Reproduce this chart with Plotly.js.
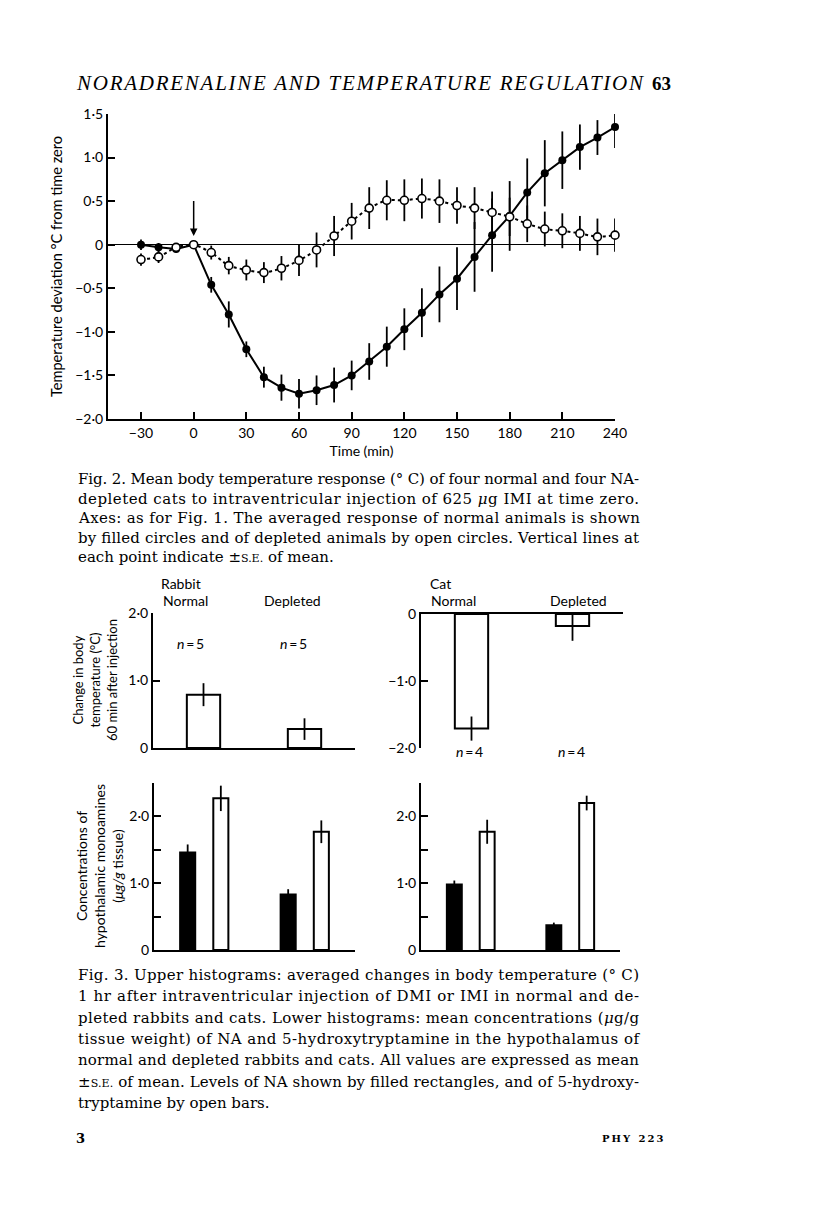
<!DOCTYPE html>
<html><head><meta charset="utf-8">
<script src="https://cdn.plot.ly/plotly-3.0.1.min.js"></script>
<style>html,body{margin:0;padding:0;background:#fff}#chart{width:816px;height:1212px}</style>
</head><body><div id="chart"></div>
<script>
// ---------- Fig. 2 data ----------
const time = [-30,-20,-10,0,10,20,30,40,50,60,70,80,90,100,110,120,130,140,150,160,170,180,190,200,210,220,230,240];
const normalMean = [0.00,-0.03,-0.05,0.00,-0.46,-0.80,-1.20,-1.52,-1.64,-1.71,-1.67,-1.61,-1.50,-1.34,-1.17,-0.97,-0.78,-0.57,-0.39,-0.14,0.11,0.33,0.60,0.82,0.97,1.12,1.23,1.35];
const normalSE   = [0.06,0.05,0.04,0.02,0.09,0.15,0.09,0.12,0.15,0.17,0.17,0.20,0.17,0.21,0.23,0.24,0.28,0.32,0.36,0.40,0.42,0.40,0.39,0.38,0.33,0.26,0.20,0.24];
const depletedMean = [-0.17,-0.14,-0.03,0.00,-0.09,-0.24,-0.29,-0.32,-0.27,-0.18,-0.06,0.10,0.27,0.42,0.51,0.51,0.53,0.50,0.45,0.42,0.37,0.32,0.24,0.18,0.16,0.13,0.09,0.11];
const depletedSE   = [0.07,0.07,0.03,0.02,0.08,0.10,0.12,0.12,0.14,0.18,0.20,0.23,0.21,0.24,0.23,0.24,0.23,0.25,0.21,0.24,0.24,0.22,0.21,0.20,0.20,0.20,0.21,0.19];
const timeTicks = [-30,0,30,60,90,120,150,180,210,240];
const timeTickText = ['\u221230','0','30','60','90','120','150','180','210','240'];
const tempTicks = [1.5,1.0,0.5,0,-0.5,-1.0,-1.5,-2.0];
const tempTickText = ['1\u00b75','1\u00b70','0\u00b75','0','\u22120\u00b75','\u22121\u00b70','\u22121\u00b75','\u22122\u00b70'];
const injectionTime = 0;

// ---------- Fig. 3 data ----------
const groups = ['Normal','Depleted'];
const rabbitTempChange = [0.79, 0.28];
const rabbitTempSE = [0.17, 0.16];
const rabbitN = [5, 5];
const catTempChange = [-1.71, -0.18];
const catTempSE = [0.18, 0.22];
const catN = [4, 4];
const rabbitNA = [1.46, 0.83];
const rabbitNASE = [0.12, 0.08];
const rabbit5HT = [2.27, 1.77];
const rabbit5HTSE = [0.19, 0.17];
const catNA = [0.98, 0.37];
const catNASE = [0.06, 0.04];
const cat5HT = [1.77, 2.20];
const cat5HTSE = [0.18, 0.11];

// ---------- text ----------
const header = 'NORADRENALINE AND TEMPERATURE REGULATION';
const pageNo = '63';
const fig2Caption = [
  'Fig. 2. Mean body temperature response (\u00b0 C) of four normal and four NA-',
  'depleted cats to intraventricular injection of 625 <i>\u03bc</i>g IMI at time zero.',
  'Axes: as for Fig. 1. The averaged response of normal animals is shown',
  'by filled circles and of depleted animals by open circles. Vertical lines at',
  'each point indicate \u00b1<span style="font-size:11px">S.E.</span> of mean.'
];
const fig3Caption = [
  'Fig. 3. Upper histograms: averaged changes in body temperature (\u00b0 C)',
  '1 hr after intraventricular injection of DMI or IMI in normal and de-',
  'pleted rabbits and cats. Lower histograms: mean concentrations (<i>\u03bc</i>g/g',
  'tissue weight) of NA and 5-hydroxytryptamine in the hypothalamus of',
  'normal and depleted rabbits and cats. All values are expressed as mean',
  '\u00b1<span style="font-size:11px">S.E.</span> of mean. Levels of NA shown by filled rectangles, and of 5-hydroxy-',
  'tryptamine by open bars.'
];

// ---------- helpers ----------
const W = 816, H = 1212;
const px = v => v / W;
const py = v => 1 - v / H;
const SANS = 'Lato, "Open Sans", sans-serif';
const SERIF = '"DejaVu Serif", serif';

const axBase = {
  showline: true, linecolor: '#000', linewidth: 2, mirror: false,
  ticks: 'inside', ticklen: 7, tickwidth: 2, tickcolor: '#000',
  showgrid: false, zeroline: false, fixedrange: true,
  tickfont: {family: SANS, size: 14, color: '#000'}
};
function ax(o) { return Object.assign({}, axBase, o); }

const errStyle = arr => ({type: 'data', array: arr, visible: true, color: '#000', thickness: 1.8, width: 0});

const traces = [
  // Fig 2
  {type: 'scatter', mode: 'lines+markers', x: time, y: normalMean, xaxis: 'x', yaxis: 'y',
   line: {color: '#000', width: 2}, marker: {color: '#000', size: 8},
   error_y: errStyle(normalSE), cliponaxis: false, name: 'Normal'},
  {type: 'scatter', mode: 'lines+markers', x: time, y: depletedMean, xaxis: 'x', yaxis: 'y',
   line: {color: '#000', width: 2, dash: 'dot', shape: 'spline', smoothing: 0.6},
   marker: {color: '#fff', size: 8, line: {color: '#000', width: 1.6}},
   error_y: errStyle(depletedSE), cliponaxis: false, name: 'NA-depleted'},
  // Fig 3 upper
  {type: 'bar', x: groups, y: rabbitTempChange, xaxis: 'x2', yaxis: 'y2', width: 0.33,
   marker: {color: '#fff', line: {color: '#000', width: 2}}, error_y: errStyle(rabbitTempSE)},
  {type: 'bar', x: groups, y: catTempChange, xaxis: 'x3', yaxis: 'y3', width: 0.33,
   marker: {color: '#fff', line: {color: '#000', width: 2}}, error_y: errStyle(catTempSE)},
  // Fig 3 lower
  {type: 'bar', x: groups, y: rabbitNA, xaxis: 'x4', yaxis: 'y4', width: 0.15, offset: -0.24,
   marker: {color: '#000', line: {color: '#000', width: 2}}, error_y: errStyle(rabbitNASE)},
  {type: 'bar', x: groups, y: rabbit5HT, xaxis: 'x4', yaxis: 'y4', width: 0.15, offset: 0.09,
   marker: {color: '#fff', line: {color: '#000', width: 2}}, error_y: errStyle(rabbit5HTSE)},
  {type: 'bar', x: groups, y: catNA, xaxis: 'x5', yaxis: 'y5', width: 0.15, offset: -0.24,
   marker: {color: '#000', line: {color: '#000', width: 2}}, error_y: errStyle(catNASE)},
  {type: 'bar', x: groups, y: cat5HT, xaxis: 'x5', yaxis: 'y5', width: 0.15, offset: 0.09,
   marker: {color: '#fff', line: {color: '#000', width: 2}}, error_y: errStyle(cat5HTSE)}
];

const annotations = [];
const justify = [];
function ann(text, x, y, o) {
  annotations.push(Object.assign({text: text, x: px(x), y: py(y), xref: 'paper', yref: 'paper',
    showarrow: false, xanchor: 'center', yanchor: 'middle',
    font: {family: SANS, size: 14, color: '#000'}}, o || {}));
  return annotations.length - 1;
}

// header
justify.push({idx: ann(header, 74, 83, {xanchor: 'left', align: 'left',
  font: {family: '"Liberation Serif", serif', size: 21, color: '#000', style: 'italic'}}), len: 566});
ann('<b>' + pageNo + '</b>', 650, 83, {xanchor: 'left', font: {family: '"Liberation Serif", serif', size: 19, color: '#000'}});

// arrow marking injection
annotations.push({x: injectionTime, y: 0.1, ax: injectionTime, ay: 0.52, xref: 'x', yref: 'y', axref: 'x', ayref: 'y',
  showarrow: true, arrowhead: 2, arrowsize: 1, arrowwidth: 1.5, arrowcolor: '#000', text: ''});

// Fig 2 caption
fig2Caption.forEach((t, i) => {
  const idx = ann(t, 76, 479 + 19.5 * i, {xanchor: 'left', align: 'left', font: {family: SERIF, size: 15, color: '#000'}});
  if (i < fig2Caption.length - 1) justify.push({idx: idx, len: 561});
});

// Fig 3 labels
ann('Rabbit', 181, 583);
ann('Cat', 440, 583);
ann(groups[0], 185, 601); ann(groups[1], 292, 601);
ann(groups[0], 453, 601); ann(groups[1], 578, 601);
ann('<i>n</i>\u2009=\u2009' + rabbitN[0], 190, 643); ann('<i>n</i>\u2009=\u2009' + rabbitN[1], 293, 643);
ann('<i>n</i>\u2009=\u2009' + catN[0], 470, 751); ann('<i>n</i>\u2009=\u2009' + catN[1], 571, 751);
ann('Change in body<br>temperature (\u00b0C)<br>60 min after injection', 95, 680, {textangle: -90, font: {family: SANS, size: 13, color: '#000'}});
ann('Concentrations of<br>hypothalamic monoamines<br>(<i>\u03bcg/g</i> tissue)', 99, 866, {textangle: -90, font: {family: SANS, size: 14, color: '#000'}});

// Fig 3 caption
fig3Caption.forEach((t, i) => {
  const idx = ann(t, 76, 975 + 21.3 * i, {xanchor: 'left', align: 'left', font: {family: SERIF, size: 15, color: '#000'}});
  if (i < fig3Caption.length - 1) justify.push({idx: idx, len: 561});
});

// footer
ann('<b>3</b>', 74, 1138, {xanchor: 'left', font: {family: SERIF, size: 13, color: '#000'}});
ann('<b>P\u2009H\u2009Y\u2002 2\u20092\u20093</b>', 600, 1138, {xanchor: 'left', font: {family: SERIF, size: 10, color: '#000'}});

const layout = {
  width: W, height: H, margin: {l: 0, r: 0, t: 0, b: 0},
  paper_bgcolor: '#fff', plot_bgcolor: 'rgba(0,0,0,0)', showlegend: false,
  font: {family: SANS, color: '#000'},
  xaxis: ax({domain: [px(108), px(615)], range: [-48.8, 240], anchor: 'y',
    tickvals: timeTicks, ticktext: timeTickText,
    title: {text: 'Time (min)', font: {family: SANS, size: 14, color: '#000'}, standoff: 6}}),
  yaxis: ax({domain: [py(419), py(114)], range: [-2, 1.5], anchor: 'x',
    tickvals: tempTicks, ticktext: tempTickText,
    zeroline: true, zerolinecolor: '#000', zerolinewidth: 1.5,
    title: {text: 'Temperature deviation \u00b0C from time zero', font: {family: SANS, size: 14.6, color: '#000'}, standoff: 9}}),
  xaxis2: ax({domain: [px(153), px(355)], range: [-0.5, 1.5], anchor: 'y2', type: 'category',
    ticks: '', showticklabels: false}),
  yaxis2: ax({domain: [py(748), py(613)], range: [0, 2], anchor: 'x2',
    tickvals: [0, 1, 2], ticktext: ['0', '1\u00b70', '2\u00b70']}),
  xaxis3: ax({domain: [px(421), px(623)], range: [-0.5, 1.5], anchor: 'y3', type: 'category', side: 'top',
    ticks: '', showticklabels: false}),
  yaxis3: ax({domain: [py(748), py(614)], range: [-2, 0], anchor: 'x3',
    tickvals: [0, -1, -2], ticktext: ['0', '\u22121\u00b70', '\u22122\u00b70']}),
  xaxis4: ax({domain: [px(154), px(355)], range: [-0.5, 1.5], anchor: 'y4', type: 'category',
    ticks: '', showticklabels: false}),
  yaxis4: ax({domain: [py(950), py(783)], range: [0, 2.5], anchor: 'x4',
    tickvals: [0, 0.5, 1, 1.5, 2, 2.5], ticktext: ['0', '', '1\u00b70', '', '2\u00b70', '']}),
  xaxis5: ax({domain: [px(421), px(620)], range: [-0.5, 1.5], anchor: 'y5', type: 'category',
    ticks: '', showticklabels: false}),
  yaxis5: ax({domain: [py(950), py(783)], range: [0, 2.5], anchor: 'x5',
    tickvals: [0, 0.5, 1, 1.5, 2, 2.5], ticktext: ['0', '', '1\u00b70', '', '2\u00b70', '']}),
  annotations: annotations
};

Plotly.newPlot('chart', traces, layout, {staticPlot: true}).then(gd => {
  justify.forEach(j => {
    const t = gd.querySelector('.annotation[data-index="' + j.idx + '"] text.annotation-text');
    if (t) { t.setAttribute('textLength', j.len); t.setAttribute('lengthAdjust', 'spacing'); }
  });
});
</script>
</body></html>
